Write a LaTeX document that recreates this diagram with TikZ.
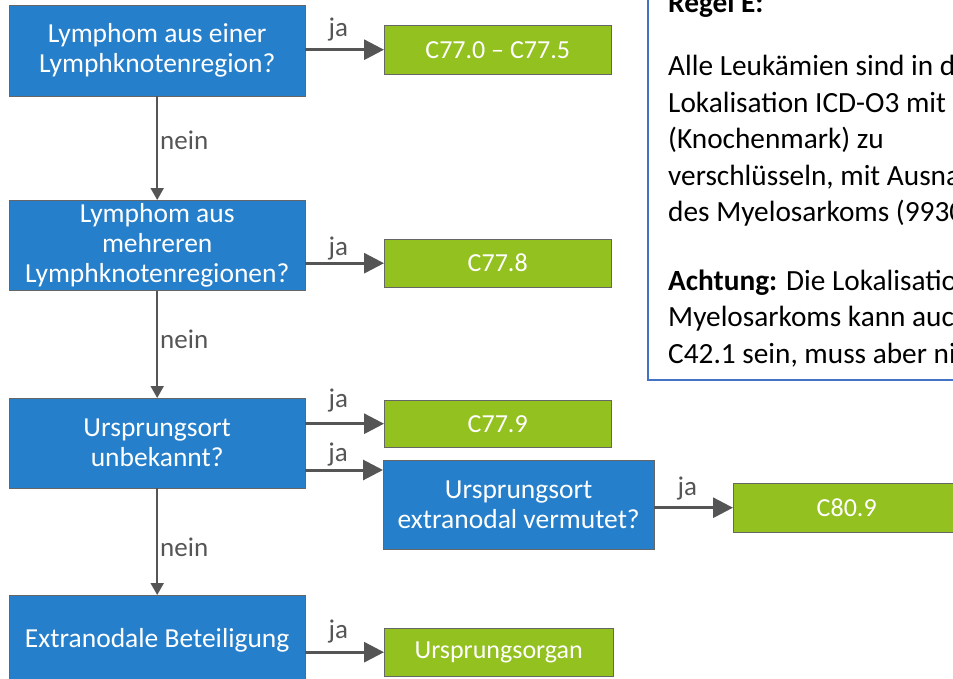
\documentclass[tikz,border=0pt]{standalone}
\usepackage{fontspec}
\setmainfont{Carlito}
\usepackage{tikz}
\usetikzlibrary{arrows.meta}

\definecolor{boxblue}{RGB}{38,127,202}
\definecolor{boxgreen}{RGB}{147,193,31}
\definecolor{arrowgray}{RGB}{85,85,85}
\definecolor{frameblue}{RGB}{68,114,196}

\tikzset{
  question/.style={rectangle, draw=black!60, fill=boxblue, text=white, align=center, minimum width=296pt, minimum height=90pt, anchor=north west, font=\fontsize{27.5}{30}\selectfont},
  result/.style={rectangle, draw=black!60, fill=boxgreen, text=white, minimum width=227pt, minimum height=48pt, anchor=north west, font=\fontsize{26}{30}\selectfont},
  jaarrow/.style={line width=3pt, draw=arrowgray, -{Triangle[length=20pt,width=20pt]}},
  neinarrow/.style={line width=2pt, draw=arrowgray, -{Triangle[length=12pt,width=13pt]}},
  answer/.style={text=arrowgray, font=\fontsize{27}{30}\selectfont, inner sep=2pt},
}

\begin{document}
\begin{tikzpicture}[x=1pt, y=-1pt]

\useasboundingbox (0,0) rectangle (953,678);
\clip (0,0) rectangle (953,678);

% questions
\node at (9,5)[question, minimum height=91pt] (q1) {Lymphom aus einer\\Lymphknotenregion?};
\node at (9,200)[question] (q2) {Lymphom aus\\mehreren\\Lymphknotenregionen?};
\node at (9,398)[question] (q3) {Ursprungsort\\unbekannt?};
\node at (9,595)[question] (q4) {Extranodale Beteiligung};
\node at (383,460)[question, minimum width=271pt, minimum height=89pt] (q5) {Ursprungsort\\extranodal vermutet?};

% results
\node at (384,25)[result, minimum height=49pt] (g1) {C77.0 -- C77.5};
\node at (384,239)[result] (g2) {C77.8};
\node at (384,400)[result, minimum height=47pt] (g3) {C77.9};
\node at (384,628)[result, minimum width=229pt] (g4) {Ursprungsorgan};
\node at (733,483)[result, minimum height=49pt] (g5) {C80.9};

\coordinate (q5in) at ([yshift=-10pt]q5.north west);

% ja
\draw[jaarrow] (g1.west -| q1.east) -- node[answer, above=5pt, pos=0.42] {ja} (g1.west);
\draw[jaarrow] (g2.west -| q2.east) -- node[answer, above, pos=0.42] {ja} (g2.west);
\draw[jaarrow] (g3.west -| q3.east) -- node[answer, above=8pt, pos=0.42] {ja} (g3.west);
\draw[jaarrow] (q5in -| q3.east) -- node[answer, above, pos=0.42] {ja} (q5in);
\draw[jaarrow] (g5.west -| q5.east) -- node[answer, above=4pt, pos=0.42] {ja} (g5.west);
\draw[jaarrow] (g4.west -| q4.east) -- node[answer, above=6pt, pos=0.42] {ja} (g4.west);

% nein
\draw[neinarrow] (q1.south) -- node[answer, right, pos=0.42] {nein} (q2.north);
\draw[neinarrow] (q2.south) -- node[answer, right, pos=0.45] {nein} (q3.north);
\draw[neinarrow] (q3.south) -- node[answer, right, pos=0.55] {nein} (q4.north);

% Regel E
\node at (647,381)[rectangle, draw=frameblue, line width=2pt, fill=white, minimum width=330pt, minimum height=400pt, anchor=south west] (regel) {};
\node at (668,363)[anchor=base west, align=left, inner sep=0pt, font=\fontsize{29.3}{36.5}\selectfont] (regeltext)
  {\textbf{Regel E:}\\[27pt]
   Alle Leukämien sind in d\\
   Lokalisation ICD-O3 mit\\
   (Knochenmark) zu\\
   verschlüsseln, mit Ausna\\
   des Myelosarkoms (9930\\[32pt]
   \textbf{Achtung:} Die Lokalisation\\
   Myelosarkoms kann auch\\
   C42.1 sein, muss aber nic};

\end{tikzpicture}
\end{document}
